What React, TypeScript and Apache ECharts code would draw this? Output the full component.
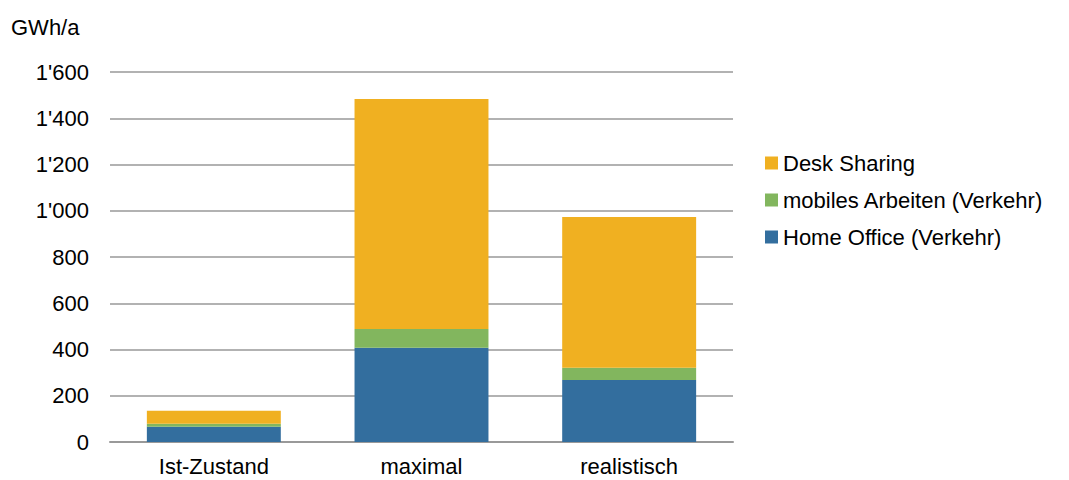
import React, { useEffect, useRef } from "react";
import * as echarts from "echarts";

const categories = ["Ist-Zustand", "maximal", "realistisch"];
const homeOffice = [66, 408, 268];
const mobilesArbeiten = [13, 81, 53];
const deskSharing = [56, 994, 652];
const yTicks = [0, 200, 400, 600, 800, 1000, 1200, 1400, 1600];

const FONT = "'Liberation Sans', Arial, sans-serif";
const FS = 22;

function fmt(v: number): string {
  return String(v).replace(/\B(?=(\d{3})+(?!\d))/g, "'");
}

export default function App() {
  const ref = useRef<HTMLDivElement>(null);
  useEffect(() => {
    if (!ref.current) return;
    const chart = echarts.init(ref.current, null, { renderer: "svg" });
    chart.setOption({
      animation: false,
      backgroundColor: "#ffffff",
      textStyle: { fontFamily: FONT },
      grid: { left: 110, right: 336, top: 72, bottom: 38, containLabel: false },
      graphic: [
        {
          type: "text",
          left: 11,
          top: 16,
          style: { text: "GWh/a", font: `${FS}px ${FONT}`, fill: "#000" },
        },
      ],
      legend: {
        orient: "vertical",
        left: 760,
        top: 147,
        padding: [5, 5, 5, 5],
        itemWidth: 13,
        itemHeight: 13,
        itemGap: 15,
        icon: "rect",
        data: ["Desk Sharing", "mobiles Arbeiten (Verkehr)", "Home Office (Verkehr)"],
        textStyle: { fontSize: FS, color: "#000", fontFamily: FONT, padding: [0, 0, 0, 0] },
      },
      xAxis: {
        type: "category",
        data: categories,
        axisLine: { show: true, lineStyle: { color: "#999", width: 2 } },
        axisTick: { show: false },
        axisLabel: { fontSize: FS, color: "#000", fontFamily: FONT, margin: 13 },
      },
      yAxis: {
        type: "value",
        min: yTicks[0],
        max: yTicks[yTicks.length - 1],
        interval: 200,
        axisLine: { show: false },
        axisTick: { show: false },
        splitLine: { lineStyle: { color: "#999", width: 1.5 } },
        axisLabel: {
          fontSize: FS,
          color: "#000",
          fontFamily: FONT,
          margin: 21,
          formatter: (v: number) => fmt(v),
        },
      },
      series: [
        {
          name: "Home Office (Verkehr)",
          type: "bar",
          stack: "total",
          barWidth: "64.5%",
          data: homeOffice,
          itemStyle: { color: "#336E9E" },
        },
        {
          name: "mobiles Arbeiten (Verkehr)",
          type: "bar",
          stack: "total",
          data: mobilesArbeiten,
          itemStyle: { color: "#82B65E" },
        },
        {
          name: "Desk Sharing",
          type: "bar",
          stack: "total",
          data: deskSharing,
          itemStyle: { color: "#F0B021" },
        },
      ],
    });
    return () => chart.dispose();
  }, []);
  return <div ref={ref} style={{ width: 1069, height: 480, position: "absolute", left: 0, top: 0 }} />;
}
